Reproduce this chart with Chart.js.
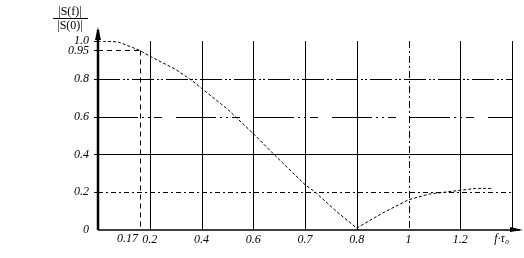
<!DOCTYPE html>
<html><head><meta charset="utf-8">
<script src="https://cdn.jsdelivr.net/npm/chart.js@4/dist/chart.umd.min.js"></script>
<style>html,body{margin:0;padding:0;background:#fff}canvas{display:block}</style>
</head><body>
<canvas id="c" width="524" height="258"></canvas>
<script>
// x positions are grid steps; each step carries a printed f·τ0 label
const xTickLabels = ['0.2','0.4','0.6','0.7','0.8','1','1.2'];
const xTickPos = [1,2,3,4,5,6,7];
const markerLabel = '0.17';
const markerPos = 0.81;
const markerValue = 0.95;
const yTickValues = [0,0.2,0.4,0.6,0.8,0.95,1.0];
const yTickLabels = ['0','0.2','0.4','0.6','0.8','0.95','1.0'];
const curveX = [0,0.39,0.81,1,1.5,1.82,2,2.5,3,3.4,4,4.2,4.6,5,5.5,6,6.4,6.7,7,7.3,7.6];
const curveY = [1.0,0.995,0.95,0.92,0.85,0.79,0.75,0.64,0.51,0.40,0.24,0.20,0.10,0.01,0.09,0.16,0.19,0.20,0.21,0.22,0.22];

const FONT = {family:'"Liberation Serif", "DejaVu Serif", serif', style:'italic', size:12};

const decor = {
  id:'decor',
  beforeDatasetsDraw(chart){
    const {ctx, scales:{x,y}} = chart;
    const L = x.getPixelForValue(0), R = x.getPixelForValue(8);
    const B = y.getPixelForValue(0), T = y.getPixelForValue(1);
    ctx.save();
    ctx.strokeStyle = '#000';
    ctx.lineWidth = 1;
    const hl = (v, dash) => { ctx.setLineDash(dash); ctx.beginPath(); const py = Math.round(y.getPixelForValue(v))+0.5; ctx.moveTo(L,py); ctx.lineTo(R,py); ctx.stroke(); };
    hl(0.8,[22,3,2,2,2,3]);
    hl(0.6,[40,4,2,4,2,4,8,14]);
    hl(0.4,[]);
    hl(0.2,[5,3,2,3]);
    for (let i=1;i<=8;i++){
      ctx.setLineDash(i===6?[7,3,2,3]:[]);
      const px = Math.round(x.getPixelForValue(i))+0.5;
      ctx.beginPath(); ctx.moveTo(px,T); ctx.lineTo(px,B); ctx.stroke();
    }
    // marker lines at 0.17 / 0.95
    ctx.setLineDash([5,4]);
    const mx = Math.round(x.getPixelForValue(markerPos))+0.5;
    const my = Math.round(y.getPixelForValue(markerValue))+0.5;
    ctx.beginPath(); ctx.moveTo(mx,my); ctx.lineTo(mx,B); ctx.stroke();
    ctx.beginPath(); ctx.moveTo(L,my); ctx.lineTo(mx,my); ctx.stroke();
    ctx.restore();
  },
  afterDraw(chart){
    const {ctx, scales:{x,y}} = chart;
    const L = x.getPixelForValue(0), B = y.getPixelForValue(0);
    ctx.save();
    ctx.strokeStyle = '#000'; ctx.fillStyle = '#000'; ctx.setLineDash([]);
    // y axis
    ctx.lineWidth = 2.5;
    ctx.beginPath(); ctx.moveTo(L, B); ctx.lineTo(L, 30); ctx.stroke();
    ctx.beginPath(); ctx.moveTo(L-3, 40); ctx.lineTo(L, 27); ctx.lineTo(L+3, 40); ctx.closePath(); ctx.fill();
    // x axis
    ctx.lineWidth = 1.5;
    ctx.beginPath(); ctx.moveTo(L, B); ctx.lineTo(520, B); ctx.stroke();
    ctx.beginPath(); ctx.moveTo(510, B-3); ctx.lineTo(523, B); ctx.lineTo(510, B+2); ctx.closePath(); ctx.fill();
    // y ticks
    ctx.lineWidth = 1;
    yTickValues.forEach(v=>{ if(v===0) return; const py=Math.round(y.getPixelForValue(v))+0.5; ctx.beginPath(); ctx.moveTo(L-4,py); ctx.lineTo(L,py); ctx.stroke(); });
    // extra x labels
    ctx.font = 'italic 12px "Liberation Serif", serif';
    ctx.textBaseline = 'top';
    ctx.textAlign = 'right';
    ctx.fillText(markerLabel, x.getPixelForValue(markerPos)-2, B+3);
    ctx.textAlign = 'center';
    ctx.fillText('f·τ\u2080', x.getPixelForValue(7.8), B+3);
    // title fraction
    ctx.font = '12px "Liberation Serif", serif';
    ctx.textAlign = 'center'; ctx.textBaseline = 'alphabetic';
    ctx.fillText('|S(f)|', 70, 15);
    ctx.fillText('|S(0)|', 70, 29);
    ctx.beginPath(); ctx.moveTo(53, 18.5); ctx.lineTo(88, 18.5); ctx.stroke();
    ctx.restore();
  }
};

new Chart(document.getElementById('c'), {
  type:'line',
  data:{datasets:[{
    data: curveX.map((v,i)=>({x:v, y:curveY[i]})),
    borderColor:'#000', borderWidth:1, borderDash:[3,2], pointRadius:0, tension:0, fill:false
  }]},
  options:{
    responsive:false, animation:false, events:[],
    layout:{padding:{left:0,right:12,top:41,bottom:0}},
    plugins:{legend:{display:false}, tooltip:{enabled:false}},
    scales:{
      x:{type:'linear', min:0, max:8,
        grid:{display:false, drawTicks:false}, border:{display:false},
        afterBuildTicks:s=>{ s.ticks = xTickPos.map(v=>({value:v})); },
        afterFit:s=>{ s.height = 28; },
        ticks:{autoSkip:false, maxRotation:0, color:'#000', font:FONT, padding:3,
          callback:(v)=>{ const i = xTickPos.indexOf(v); return i>=0 ? xTickLabels[i] : ''; }}
      },
      y:{type:'linear', min:0, max:1,
        grid:{display:false, drawTicks:false}, border:{display:false},
        afterBuildTicks:s=>{ s.ticks = yTickValues.map(v=>({value:v})); },
        afterFit:s=>{ s.width = 98; },
        ticks:{autoSkip:false, color:'#000', font:FONT, padding:9,
          callback:(v)=>{ const i = yTickValues.indexOf(v); return i>=0 ? yTickLabels[i] : ''; }}
      }
    }
  },
  plugins:[decor]
});
</script>
</body></html>
